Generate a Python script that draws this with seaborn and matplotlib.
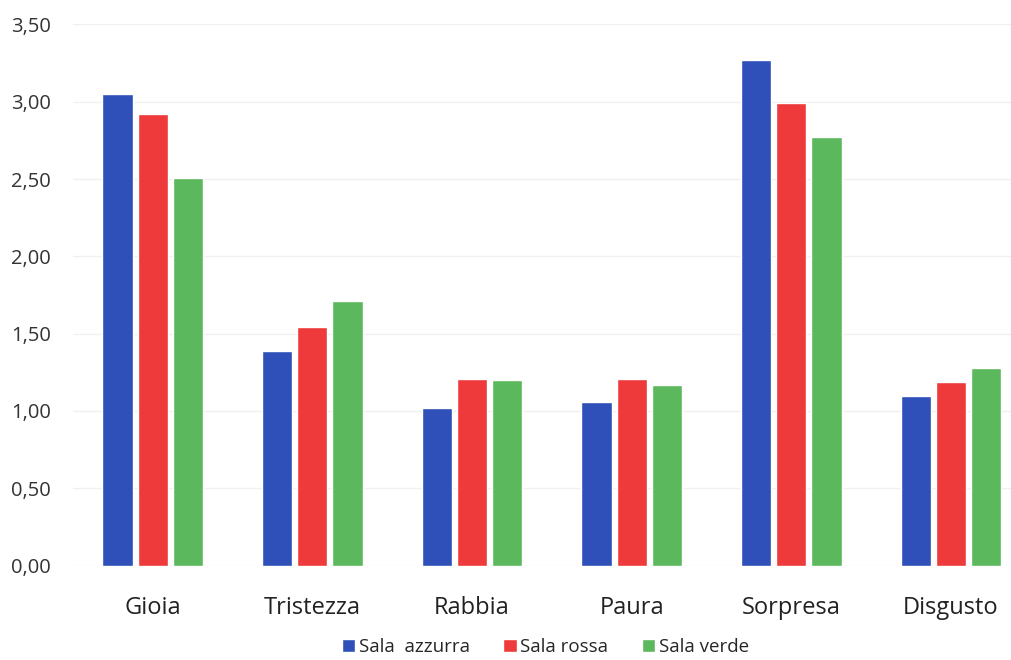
import matplotlib
matplotlib.use("Agg")
import matplotlib.pyplot as plt
import seaborn as sns
import pandas as pd

categories = ["Gioia", "Tristezza", "Rabbia", "Paura", "Sorpresa", "Disgusto"]
series_names = ["Sala  azzurra", "Sala rossa", "Sala verde"]
sala_azzurra = [3.05, 1.39, 1.02, 1.06, 3.27, 1.10]
sala_rossa = [2.92, 1.54, 1.21, 1.21, 2.99, 1.19]
sala_verde = [2.51, 1.71, 1.20, 1.17, 2.77, 1.28]
y_ticks = [0.0, 0.5, 1.0, 1.5, 2.0, 2.5, 3.0, 3.5]
colors = ["#2E50B8", "#EE3A3A", "#5CB85C"]

rows = []
for name, vals in zip(series_names, [sala_azzurra, sala_rossa, sala_verde]):
    for cat, v in zip(categories, vals):
        rows.append({"Emozione": cat, "Sala": name, "Valore": v})
df = pd.DataFrame(rows)

sns.set_theme(style="white")
plt.rcParams["font.family"] = ["Open Sans", "DejaVu Sans"]

fig = plt.figure(figsize=(10.11, 6.6), dpi=100)
ax = fig.add_axes([0.072, 0.143, 0.935, 0.82])

sns.barplot(data=df, x="Emozione", y="Valore", hue="Sala", order=categories,
            hue_order=series_names, palette=colors, width=0.66, gap=0.14,
            saturation=1, errorbar=None, ax=ax, legend=True)

ax.set_ylim(0, 3.5)
ax.set_xlim(-0.5, 5.42)
ax.set_yticks(y_ticks)
ax.set_yticklabels([f"{t:.2f}".replace(".", ",") for t in y_ticks], fontsize=14.5, color="#333333")
ax.tick_params(axis="x", labelsize=17, colors="#222222", pad=22, length=0)
ax.tick_params(axis="y", pad=16, length=0)
ax.set_xlabel("")
ax.set_ylabel("")
ax.yaxis.grid(True, color="#F0F0F0", linewidth=1)
ax.set_axisbelow(True)
for s in ax.spines.values():
    s.set_visible(False)

handles, labels = ax.get_legend_handles_labels()
ax.legend(handles, labels, loc="upper center", bbox_to_anchor=(0.5, -0.11),
          ncol=3, frameon=False, fontsize=13.5, handlelength=0.7, handleheight=0.7,
          handletextpad=0.2, columnspacing=1.8, borderpad=0.2)

fig.savefig("out.png", dpi=100, facecolor="white")
